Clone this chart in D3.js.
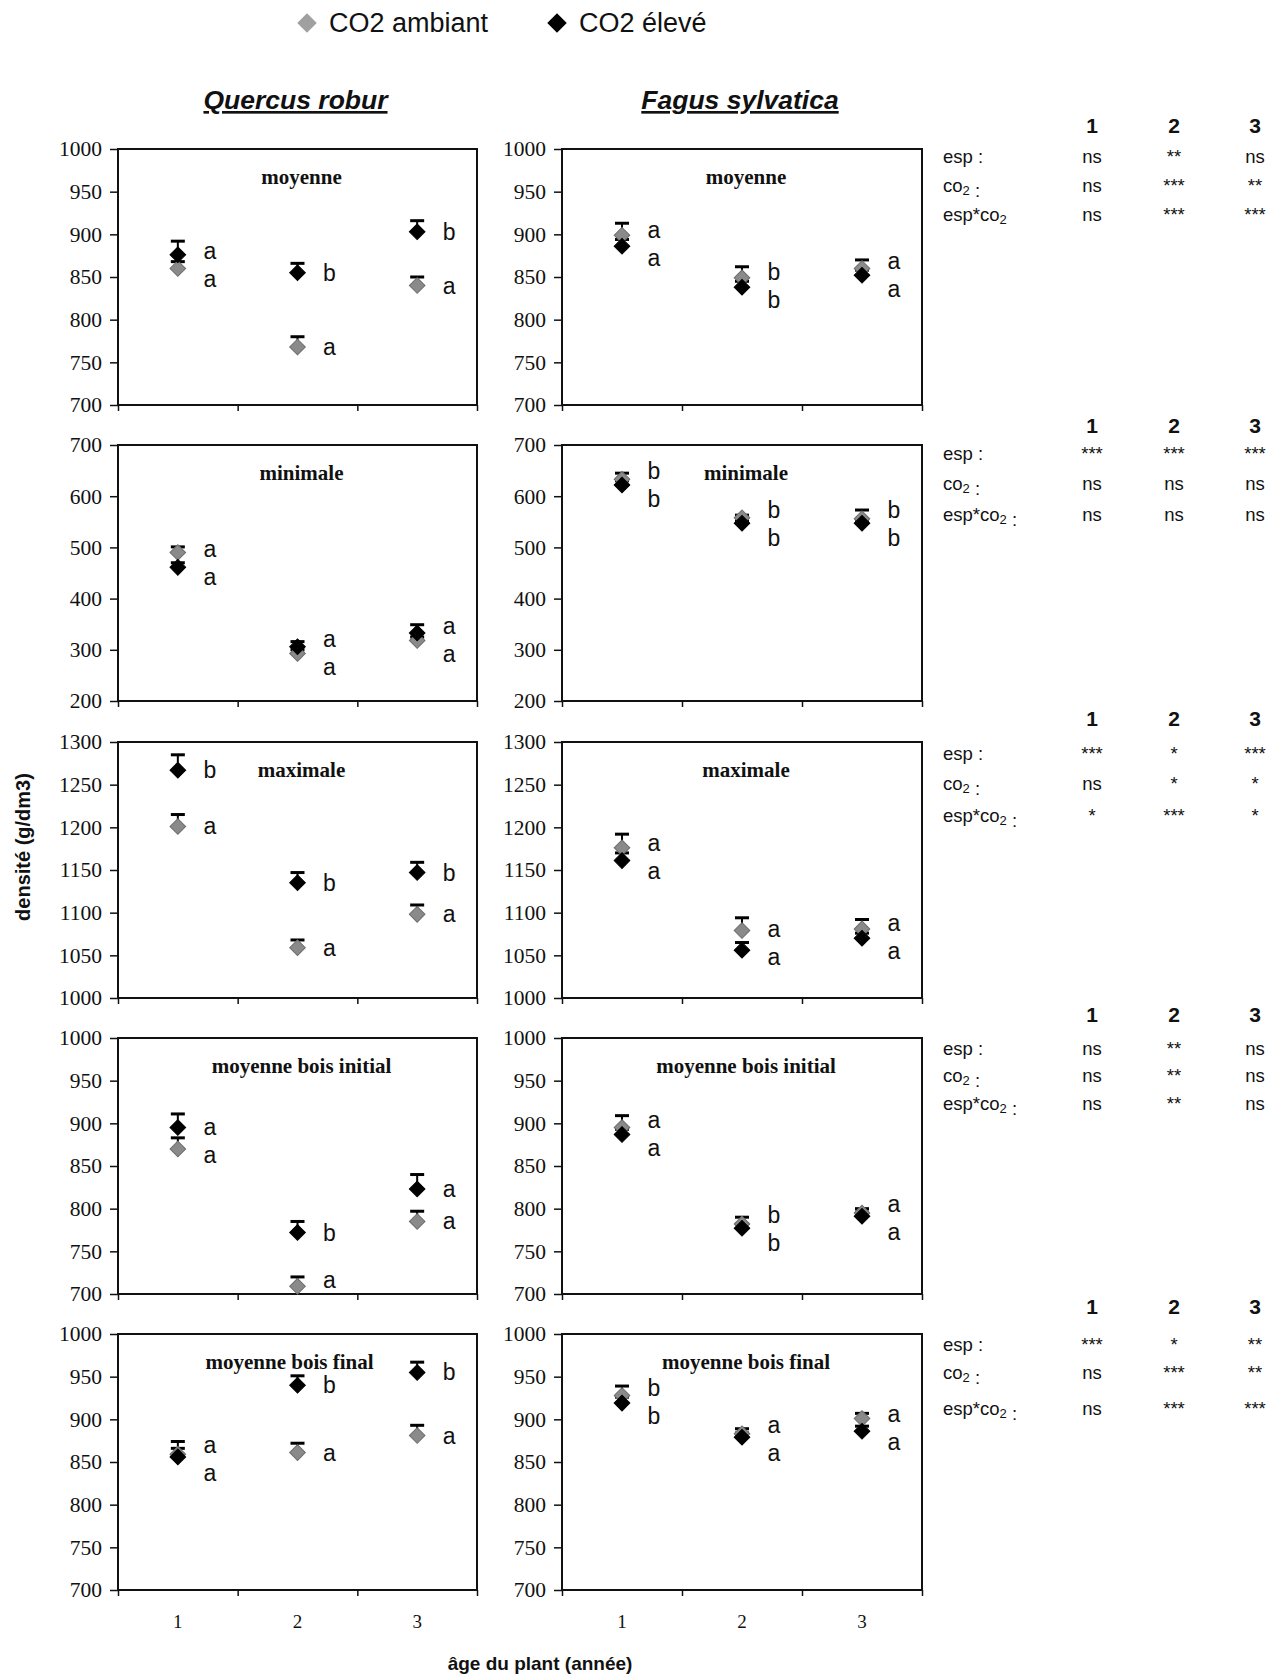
<!DOCTYPE html>
<html><head><meta charset="utf-8">
<script src="https://cdn.jsdelivr.net/npm/d3@7"></script>
<style>body{margin:0;background:#fff}</style></head>
<body><svg id="c" width="1283" height="1676"></svg>
<script>
// ---------------- DATA ----------------
const years = ["1", "2", "3"];
const species = ["Quercus robur", "Fagus sylvatica"];
const seriesNames = ["CO2 ambiant", "CO2 élevé"];
const panelTitles = ["moyenne", "minimale", "maximale", "moyenne bois initial", "moyenne bois final"];
const yDomains = [[700, 1000], [200, 700], [1000, 1300], [700, 1000], [700, 1000]];
const yTickSteps = [50, 100, 50, 50, 50];
const yAxisLabel = "densité (g/dm3)";
const xAxisLabel = "âge du plant (année)";

// Quercus robur: means and top of error bars (per panel row, per year)
const quercusAmb     = [[860, 768, 840], [490, 293, 318], [1201, 1059, 1098], [870, 709, 785], [859, 861, 881]];
const quercusAmbErr  = [[868, 780, 850], [501, 300, 325], [1215, 1068, 1109], [883, 720, 797], [866, 872, 893]];
const quercusElev    = [[876, 855, 903], [461, 306, 333], [1267, 1135, 1147], [895, 772, 823], [856, 940, 955]];
const quercusElevErr = [[892, 866, 916], [470, 316, 349], [1285, 1147, 1159], [911, 785, 840], [874, 951, 967]];
// Fagus sylvatica
const fagusAmb     = [[899, 849, 860], [633, 558, 556], [1176, 1079, 1081], [895, 782, 795], [928, 883, 901]];
const fagusAmbErr  = [[913, 862, 870], [645, 563, 573], [1192, 1094, 1092], [909, 790, 800], [939, 889, 907]];
const fagusElev    = [[886, 838, 852], [622, 547, 547], [1161, 1056, 1070], [887, 777, 791], [919, 879, 886]];
const fagusElevErr = [[894, 845, 858], [630, 552, 552], [1170, 1065, 1076], [893, 782, 796], [926, 884, 892]];

// significance letters
const quercusAmbLetters  = [["a","a","a"],["a","a","a"],["a","a","a"],["a","a","a"],["a","a","a"]];
const quercusElevLetters = [["a","b","b"],["a","a","a"],["b","b","b"],["a","b","a"],["a","b","b"]];
const fagusAmbLetters    = [["a","b","a"],["b","b","b"],["a","a","a"],["a","b","a"],["b","a","a"]];
const fagusElevLetters   = [["a","b","a"],["b","b","b"],["a","a","a"],["a","b","a"],["b","a","a"]];

// ANOVA tables
const statCols = ["1", "2", "3"];
const statLabels = [
  ["esp :", "co2 :", "esp*co2"],
  ["esp :", "co2 :", "esp*co2 :"],
  ["esp :", "co2 :", "esp*co2 :"],
  ["esp :", "co2 :", "esp*co2 :"],
  ["esp :", "co2 :", "esp*co2 :"]
];
const statValues = [
  [["ns","**","ns"],["ns","***","**"],["ns","***","***"]],
  [["***","***","***"],["ns","ns","ns"],["ns","ns","ns"]],
  [["***","*","***"],["ns","*","*"],["*","***","*"]],
  [["ns","**","ns"],["ns","**","ns"],["ns","**","ns"]],
  [["***","*","**"],["ns","***","**"],["ns","***","***"]]
];

// ---------------- LAYOUT ----------------
const SANS = "'Liberation Sans', Arial, sans-serif";
const SERIF = "'Liberation Serif', 'Times New Roman', serif";
const colX = [[118, 477], [562, 922]];
const rowTop = [149, 445, 742, 1038, 1334];
const panelH = 256;
const colors = ["#8a8a8a", "#000000"];
const strokes = ["#6e6e6e", "#000000"];

const svg = d3.select("#c");
const diamond = d3.symbol().type(d3.symbolSquare).size(122);

// legend
const legendX = [307, 557];
seriesNames.forEach((n, i) => {
  svg.append("path").attr("d", d3.symbol().type(d3.symbolSquare).size(190)())
    .attr("transform", `translate(${legendX[i]},23) rotate(45)`)
    .attr("fill", i === 0 ? "#a0a0a0" : "#000");
  svg.append("text").attr("x", legendX[i] + 22).attr("y", 23)
    .attr("dominant-baseline", "central")
    .attr("font-family", SANS).attr("font-size", 27).attr("fill", "#111").text(n);
});

// species titles
species.forEach((s, c) => {
  const cx = (colX[c][0] + colX[c][1]) / 2;
  svg.append("text").attr("x", cx - 2).attr("y", 109)
    .attr("text-anchor", "middle").attr("font-family", SANS).attr("font-size", 26.5)
    .attr("font-weight", "bold").attr("font-style", "italic").attr("fill", "#111")
    .attr("text-decoration", "underline").text(s);
});

const allData = [
  { amb: quercusAmb, ambErr: quercusAmbErr, elev: quercusElev, elevErr: quercusElevErr, la: quercusAmbLetters, le: quercusElevLetters },
  { amb: fagusAmb, ambErr: fagusAmbErr, elev: fagusElev, elevErr: fagusElevErr, la: fagusAmbLetters, le: fagusElevLetters }
];

panelTitles.forEach((title, r) => {
  allData.forEach((D, c) => {
    const [x0, x1] = colX[c];
    const top = rowTop[r], bottom = top + panelH;
    const x = d3.scaleBand().domain(years).range([x0, x1]);
    const y = d3.scaleLinear().domain(yDomains[r]).range([bottom, top]);
    const g = svg.append("g");

    // y axis
    const ticks = d3.range(yDomains[r][0], yDomains[r][1] + 1, yTickSteps[r]);
    const ya = g.append("g").attr("transform", `translate(${x0},0)`)
      .call(d3.axisLeft(y).tickValues(ticks).tickSize(8).tickPadding(8).tickFormat(d3.format("d")));
    ya.select(".domain").remove();
    ya.selectAll("line").attr("stroke", "#111").attr("stroke-width", 1.5);
    ya.selectAll("text").attr("font-family", SERIF).attr("font-size", 21.5).attr("fill", "#111");

    // bottom tick marks at category boundaries
    const xl = d3.scaleLinear().domain([0, years.length]).range([x0, x1]);
    const xa = g.append("g").attr("transform", `translate(0,${bottom})`)
      .call(d3.axisBottom(xl).tickValues(d3.range(0, years.length + 1)).tickSize(6).tickFormat(""));
    xa.select(".domain").remove();
    xa.selectAll("line").attr("stroke", "#111").attr("stroke-width", 1.5);

    // plot frame
    g.append("rect").attr("x", x0).attr("y", top).attr("width", x1 - x0).attr("height", panelH)
      .attr("fill", "none").attr("stroke", "#111").attr("stroke-width", 2);

    // panel title
    const titleDx = (r === panelTitles.length - 1 && c === 0) ? -8 : 4;
    g.append("text").attr("x", (x0 + x1) / 2 + titleDx).attr("y", top + 28)
      .attr("text-anchor", "middle").attr("dominant-baseline", "central")
      .attr("font-family", SERIF).attr("font-weight", "bold").attr("font-size", 21)
      .attr("fill", "#111").text(title);

    const series = [
      { v: D.amb[r], e: D.ambErr[r], l: D.la[r] },
      { v: D.elev[r], e: D.elevErr[r], l: D.le[r] }
    ];
    // error bars first
    series.forEach((s) => {
      years.forEach((yr, k) => {
        const cx = x(yr) + x.bandwidth() / 2;
        g.append("line").attr("x1", cx).attr("x2", cx).attr("y1", y(s.v[k])).attr("y2", y(s.e[k]))
          .attr("stroke", "#000").attr("stroke-width", 2);
        g.append("line").attr("x1", cx - 7).attr("x2", cx + 7).attr("y1", y(s.e[k])).attr("y2", y(s.e[k]))
          .attr("stroke", "#000").attr("stroke-width", 3);
      });
    });
    // markers
    series.forEach((s, i) => {
      years.forEach((yr, k) => {
        const cx = x(yr) + x.bandwidth() / 2;
        g.append("path").attr("d", diamond())
          .attr("transform", `translate(${cx},${y(s.v[k])}) rotate(45)`)
          .attr("fill", colors[i]).attr("stroke", strokes[i]).attr("stroke-width", 1);
      });
    });
    // letters
    years.forEach((yr, k) => {
      const cx = x(yr) + x.bandwidth() / 2;
      const pa = y(series[0].v[k]), pe = y(series[1].v[k]);
      let la, le;
      if (Math.abs(pa - pe) < 28) {
        const mid = (pa + pe) / 2 + 3;
        if (pe <= pa) { le = mid - 14; la = mid + 14; } else { la = mid - 14; le = mid + 14; }
      } else { la = pa; le = pe; }
      [[series[0].l[k], la], [series[1].l[k], le]].forEach(([t, py]) => {
        g.append("text").attr("x", cx + 32).attr("y", Math.min(py, bottom - 14)).attr("text-anchor", "middle")
          .attr("dominant-baseline", "central").attr("font-family", SANS).attr("font-size", 23)
          .attr("fill", "#111").text(t);
      });
    });

    // x category labels on the last row
    if (r === panelTitles.length - 1) {
      years.forEach((yr) => {
        g.append("text").attr("x", x(yr) + x.bandwidth() / 2).attr("y", bottom + 31)
          .attr("text-anchor", "middle").attr("dominant-baseline", "central")
          .attr("font-family", SERIF).attr("font-size", 19).attr("fill", "#111").text(yr);
      });
    }
  });
});

// axis titles
svg.append("text").attr("transform", "translate(23,847) rotate(-90)")
  .attr("text-anchor", "middle").attr("dominant-baseline", "central")
  .attr("font-family", SANS).attr("font-weight", "bold").attr("font-size", 20).attr("fill", "#111")
  .text(yAxisLabel);
svg.append("text").attr("x", 540).attr("y", 1663)
  .attr("text-anchor", "middle").attr("dominant-baseline", "central")
  .attr("font-family", SANS).attr("font-weight", "bold").attr("font-size", 19).attr("fill", "#111")
  .text(xAxisLabel);

// ANOVA tables
const tabHeaderY = [125, 425, 718, 1014, 1306];
const tabRowDy = [[31, 60, 89], [28, 58, 89], [35, 65, 97], [34, 61, 89], [38, 66, 102]];
const tabColX = [1092, 1174, 1255];
const tabLabelX = 943;

function writeLabel(sel, txt) {
  // render "co2" with subscript 2
  const parts = txt.split("co2");
  parts.forEach((p, i) => {
    if (p) sel.append("tspan").text(p);
    if (i < parts.length - 1) {
      sel.append("tspan").text("co");
      sel.append("tspan").attr("font-size", 13).attr("dy", 5).text("2");
      sel.append("tspan").attr("dy", -5).text("");
    }
  });
}

statValues.forEach((tab, t) => {
  const g = svg.append("g");
  statCols.forEach((col, j) => {
    g.append("text").attr("x", tabColX[j]).attr("y", tabHeaderY[t]).attr("text-anchor", "middle")
      .attr("dominant-baseline", "central").attr("font-family", SANS).attr("font-weight", "bold")
      .attr("font-size", 21).attr("fill", "#111").text(col);
  });
  tab.forEach((row, i) => {
    const yy = tabHeaderY[t] + tabRowDy[t][i];
    const lab = g.append("text").attr("x", tabLabelX).attr("y", yy).attr("dominant-baseline", "central")
      .attr("font-family", SANS).attr("font-size", 18.5).attr("fill", "#111");
    writeLabel(lab, statLabels[t][i]);
    row.forEach((v, j) => {
      g.append("text").attr("x", tabColX[j]).attr("y", yy).attr("text-anchor", "middle")
        .attr("dominant-baseline", "central").attr("font-family", SANS).attr("font-size", 18.5)
        .attr("fill", "#111").text(v);
    });
  });
});
</script>
</body></html>
